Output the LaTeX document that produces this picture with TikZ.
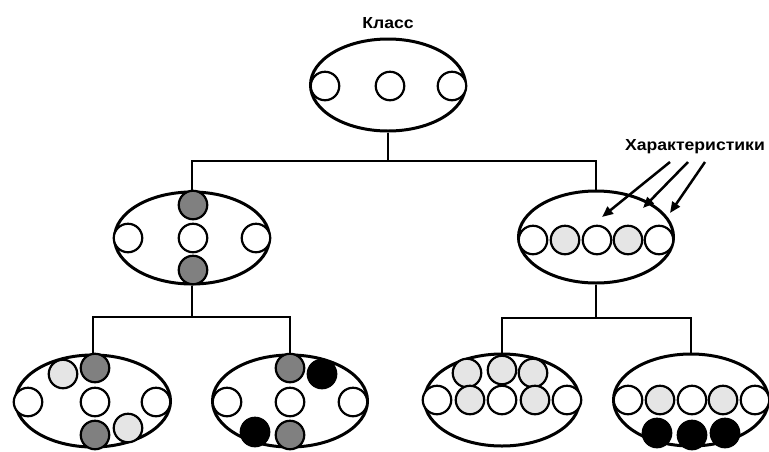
\documentclass[tikz,border=0pt]{standalone}
\usepackage{fontspec}
\setmainfont{Liberation Sans}
\usetikzlibrary{shapes.geometric,arrows.meta}
\tikzset{
  oval/.style={ellipse,draw,line width=3pt,minimum width=155pt,minimum height=92pt,inner sep=0pt},
  ball/.style={circle,draw,line width=2.2pt,minimum size=28.5pt,inner sep=0pt},
  w/.style={fill=white},
  l/.style={fill=gray!20},
  g/.style={fill=gray},
  b/.style={fill=black},
  link/.style={line width=2.5pt},
  lbl/.style={font=\bfseries\fontsize{16}{18}\selectfont}
}
\newcommand{\wide}[1]{\scalebox{1.1}[1]{#1}}
\begin{document}
\begin{tikzpicture}[x=1pt,y=-1pt]
  \useasboundingbox (0,0) rectangle (769,451);
  \node[lbl] (cls-l) at (388,23) {\wide{Класс}};
  \node[lbl] (chr) at (695,147) {\wide{Характеристики}};
  \node[oval] (cls) at (388,85) {};
  \node[oval] (sub1) at (192,238) {};
  \node[oval] (sub2) at (596,237) {};
  \node[oval] (leaf1) at (93,401) {};
  \node[oval] (leaf2) at (290,401) {};
  \node[oval] (leaf3) at (502,400) {};
  \node[oval] (leaf4) at (691,400) {};
  \coordinate (j1) at (388,161);
  \coordinate (j2) at (192,317);
  \coordinate (j3) at (596,318);
  \draw[link](cls.south)--(j1);
  \draw[link](sub1.north)|-(j1)-|(sub2.north);
  \draw[link](sub1.south)--(j2);
  \draw[link](leaf1.north)|-(j2)-|(leaf2.north);
  \draw[link](sub2.south)--(j3);
  \draw[link](leaf3.north)|-(j3)-|(leaf4.north);
  \foreach \x/\y/\f [count=\i] in {325/86/w,390/86/w,452/86/w}
    \node[ball,\f] (c0-\i) at (\x,\y) {};
  \foreach \x/\y/\f [count=\i] in {128/238/w,193/205/g,193/238/w,193/270/g,256/238/w}
    \node[ball,\f] (c1-\i) at (\x,\y) {};
  \foreach \x/\y/\f [count=\i] in {533/240/w,565/240/l,597/240/w,628/240/l,659/240/w}
    \node[ball,\f] (c2-\i) at (\x,\y) {};
  \foreach \x/\y/\f [count=\i] in {28/402/w,63/374/l,95/368/g,95/402/w,95/435/g,128/428/l,156/402/w}
    \node[ball,\f] (c3-\i) at (\x,\y) {};
  \foreach \x/\y/\f [count=\i] in {227/402/w,290/368/g,290/402/w,290/435/g,322/374/b,255/432/b,353/402/w}
    \node[ball,\f] (c4-\i) at (\x,\y) {};
  \foreach \x/\y/\f [count=\i] in {467/373/l,502/370/l,533/373/l,437/400/w,470/400/l,502/400/w,535/400/l,567/400/w}
    \node[ball,\f] (c5-\i) at (\x,\y) {};
  \foreach \x/\y/\f [count=\i] in {628/400/w,660/400/l,692/400/w,723/400/l,755/400/w,657/433/b,692/435/b,725/433/b}
    \node[ball,\f] (c6-\i) at (\x,\y) {};
  % arrows to the characteristics
  \foreach \sx/\tx/\ty [count=\i] in {670/602/217,688/643/208,705/670/213}{
    \coordinate (s\i) at (\sx,162);
    \coordinate (t\i) at (\tx,\ty);
    \draw[link,-{Triangle[length=11pt,width=9pt]}](s\i)--(t\i);
  }
\end{tikzpicture}
\end{document}
